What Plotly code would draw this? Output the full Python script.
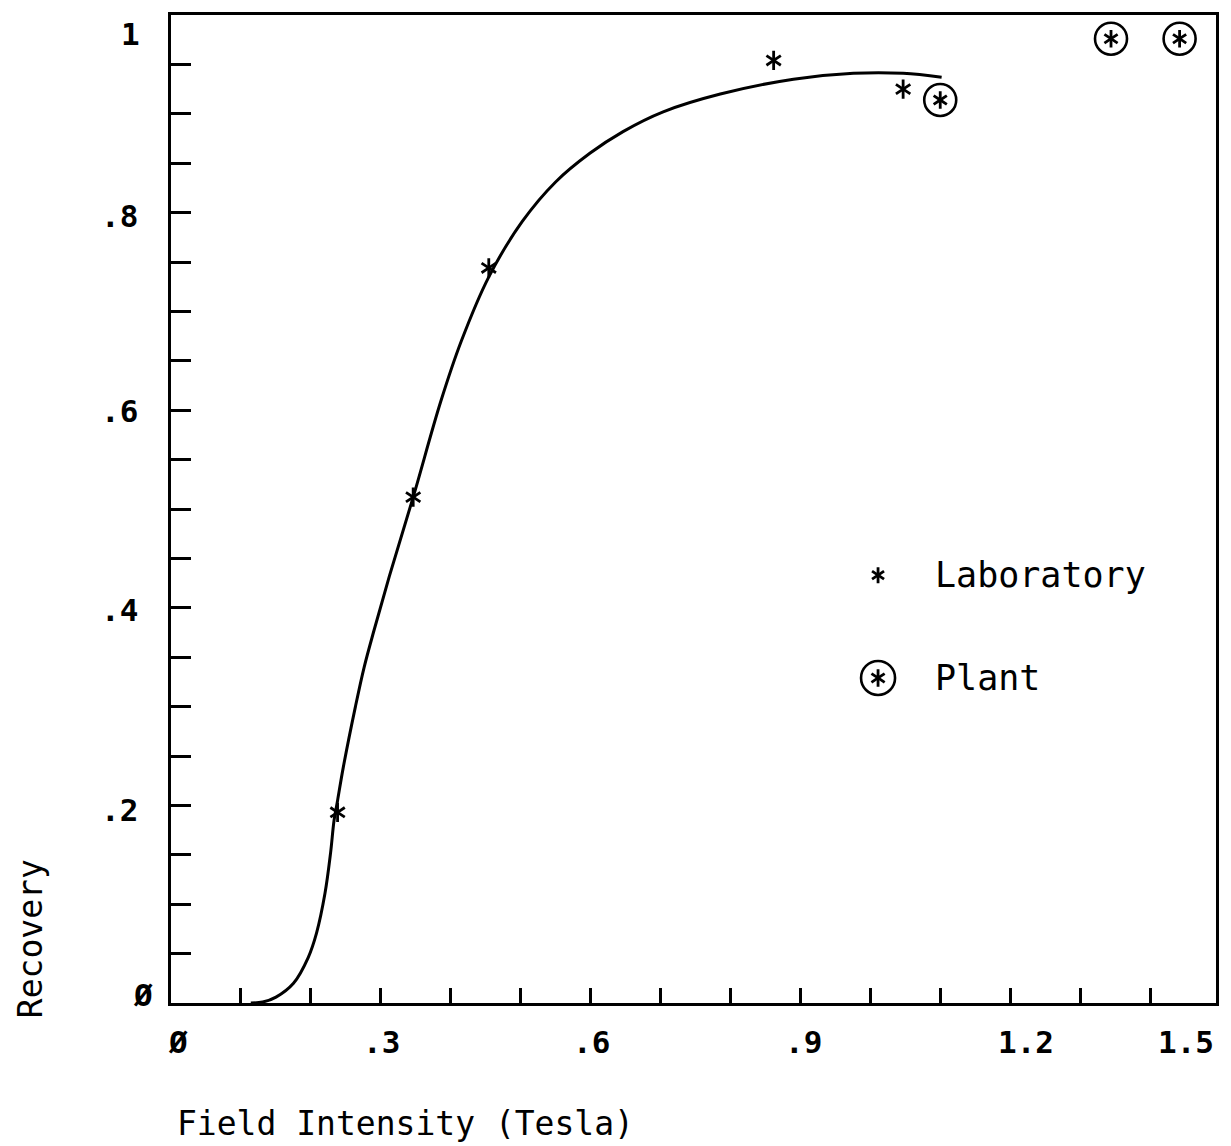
import plotly.graph_objects as go

# Smoothed recovery curve: field intensity (T) vs fractional recovery
curve_field = [0.114, 0.131, 0.150, 0.175, 0.196, 0.208, 0.220, 0.228, 0.233,
               0.238, 0.246, 0.2635, 0.276, 0.290, 0.312, 0.346, 0.3855, 0.4148,
               0.4541, 0.5019, 0.5495, 0.5984, 0.6458, 0.7032, 0.7848, 0.8893,
               0.975, 1.046, 1.101]
curve_recovery = [0.000, 0.001, 0.006, 0.020, 0.046, 0.071, 0.111, 0.152, 0.185,
                  0.205, 0.238, 0.300, 0.340, 0.377, 0.432, 0.512, 0.609, 0.670,
                  0.735, 0.791, 0.831, 0.860, 0.882, 0.902, 0.920, 0.935,
                  0.941, 0.941, 0.937]

# Measured points
lab_field = [0.238, 0.346, 0.454, 0.861, 1.046]
lab_recovery = [0.193, 0.512, 0.744, 0.954, 0.925]

plant_field = [1.099, 1.343, 1.441]
plant_recovery = [0.914, 0.976, 0.976]

# Axis labelling
X_MAX = 1.493
x_tick_values = [0, 0.3, 0.6, 0.9, 1.2, 1.5]
x_tick_labels = ["Ø", ".3", ".6", ".9", "1.2", "1.5"]
y_tick_values = [0, 0.2, 0.4, 0.6, 0.8, 1.0]
y_tick_labels = ["Ø", ".2", ".4", ".6", ".8", "1"]

legend_names = ["Laboratory", "Plant"]

# Plotter-style label offsets (pixels)
X_LABEL_NUDGE = [7, 1, 1, 3, 15, -35]
Y_LABEL_NUDGE_X = [-16, -31, -31, -31, -31, -29]
Y_LABEL_NUDGE_Y = [8, -5, -2, -1, -3, -19]

FONT = "DejaVu Sans Mono"
INK = "black"

fig = go.Figure()

fig.add_trace(go.Scatter(
    x=curve_field, y=curve_recovery, mode="lines",
    line=dict(color=INK, width=3, shape="spline", smoothing=1.0),
    showlegend=False, hoverinfo="skip",
))


def add_star(fig, xs, ys, size=12, xaxis="x", yaxis="y"):
    """Six-armed plotter asterisk built from two Y-shaped symbols."""
    for sym in ("y-up", "y-down"):
        fig.add_trace(go.Scatter(
            x=xs, y=ys, mode="markers", xaxis=xaxis, yaxis=yaxis,
            marker=dict(symbol=sym, size=size, color=INK,
                        line=dict(color=INK, width=2.8)),
            showlegend=False, cliponaxis=False, hoverinfo="skip",
        ))


def add_ring(fig, xs, ys, size=32, xaxis="x", yaxis="y"):
    fig.add_trace(go.Scatter(
        x=xs, y=ys, mode="markers", xaxis=xaxis, yaxis=yaxis,
        marker=dict(symbol="circle-open", size=size, color=INK,
                    line=dict(color=INK, width=2.6)),
        showlegend=False, cliponaxis=False, hoverinfo="skip",
    ))


add_star(fig, lab_field, lab_recovery)
add_star(fig, plant_field, plant_recovery, size=11)
add_ring(fig, plant_field, plant_recovery)

# Legend keys live on a hidden unit overlay axis
KEY_X = [0.6766, 0.6766]
KEY_Y = [0.433, 0.329]
add_star(fig, [KEY_X[0]], [KEY_Y[0]], size=10, xaxis="x2", yaxis="y2")
add_star(fig, [KEY_X[1]], [KEY_Y[1]], size=11, xaxis="x2", yaxis="y2")
add_ring(fig, [KEY_X[1]], [KEY_Y[1]], size=34, xaxis="x2", yaxis="y2")

annotations = []
for name, ky in zip(legend_names, KEY_Y):
    annotations.append(dict(
        text=name, xref="paper", yref="paper", x=0.729, y=ky,
        xanchor="left", yanchor="middle", showarrow=False,
        font=dict(family=FONT, size=35, color=INK),
    ))

for val, lab, dx in zip(x_tick_values, x_tick_labels, X_LABEL_NUDGE):
    annotations.append(dict(
        text=f"<b>{lab}</b>", xref="paper", yref="paper", x=val / X_MAX, y=0,
        xanchor="center", yanchor="middle", xshift=dx, yshift=-39,
        showarrow=False, font=dict(family=FONT, size=31, color=INK),
    ))

for val, lab, dx, dy in zip(y_tick_values, y_tick_labels, Y_LABEL_NUDGE_X, Y_LABEL_NUDGE_Y):
    annotations.append(dict(
        text=f"<b>{lab}</b>", xref="paper", yref="y", x=0, y=val,
        xanchor="right", yanchor="middle", xshift=dx, yshift=dy,
        showarrow=False, font=dict(family=FONT, size=31, color=INK),
    ))

annotations.append(dict(
    text="Field Intensity (Tesla)", xref="paper", yref="paper", x=0, y=0,
    xanchor="left", yanchor="middle", xshift=4, yshift=-120,
    showarrow=False, font=dict(family=FONT, size=33, color=INK),
))
annotations.append(dict(
    text="Recovery", xref="paper", yref="paper", x=0, y=0.0646,
    xanchor="center", yanchor="middle", xshift=-141, textangle=-90,
    showarrow=False, font=dict(family=FONT, size=33, color=INK),
))

fig.update_layout(
    width=1231, height=1146,
    margin=dict(l=171, r=15, t=13, b=143),
    paper_bgcolor="white", plot_bgcolor="white",
    showlegend=False,
    xaxis=dict(
        range=[0, X_MAX], showgrid=False, zeroline=False,
        showline=True, linecolor=INK, linewidth=3, mirror=True,
        ticks="inside", tick0=0, dtick=0.1, ticklen=15, tickwidth=3,
        tickcolor=INK, showticklabels=False,
    ),
    yaxis=dict(
        range=[0, 1.0], showgrid=False, zeroline=False,
        showline=True, linecolor=INK, linewidth=3, mirror=True,
        ticks="inside", tick0=0, dtick=0.05, ticklen=20, tickwidth=3,
        tickcolor=INK, showticklabels=False,
    ),
    xaxis2=dict(overlaying="x", anchor="y2", range=[0, 1], visible=False),
    yaxis2=dict(overlaying="y", anchor="x2", range=[0, 1], visible=False),
    annotations=annotations,
)

fig.write_html("out.html")
